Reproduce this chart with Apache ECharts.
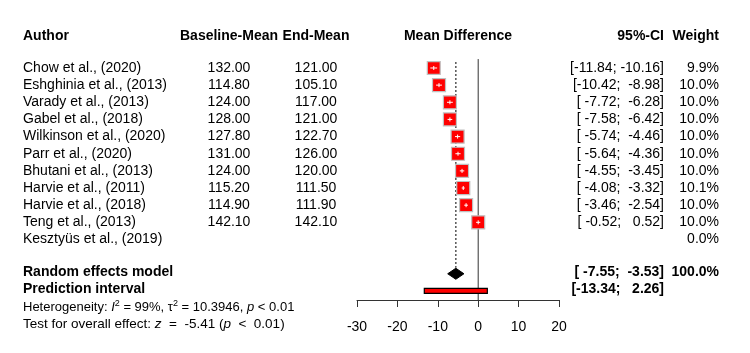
<!DOCTYPE html>
<html>
<head>
<meta charset="utf-8">
<script src="https://cdn.jsdelivr.net/npm/echarts@6/dist/echarts.min.js"></script>
<style>
html,body{margin:0;padding:0;background:#fff;}
#forest{width:750px;height:353px;}
</style>
</head>
<body>
<div id="forest"></div>
<script>
// study data
var authors = ['Chow et al., (2020)', 'Eshghinia et al., (2013)', 'Varady et al., (2013)', 'Gabel et al., (2018)',
    'Wilkinson et al., (2020)', 'Parr et al., (2020)', 'Bhutani et al., (2013)', 'Harvie et al., (2011)',
    'Harvie et al., (2018)', 'Teng et al., (2013)', 'Kesztyüs et al., (2019)'];
var baselineMean = [132.00, 114.80, 124.00, 128.00, 127.80, 131.00, 124.00, 115.20, 114.90, 142.10, null];
var endMean = [121.00, 105.10, 117.00, 121.00, 122.70, 126.00, 120.00, 111.50, 111.90, 142.10, null];
var meanDiff = [-11.00, -9.70, -7.00, -7.00, -5.10, -5.00, -4.00, -3.70, -3.00, 0.00, null];
var ciLower = [-11.84, -10.42, -7.72, -7.58, -5.74, -5.64, -4.55, -4.08, -3.46, -0.52, null];
var ciUpper = [-10.16, -8.98, -6.28, -6.42, -4.46, -4.36, -3.45, -3.32, -2.54, 0.52, null];
var weights = [9.9, 10.0, 10.0, 10.0, 10.0, 10.0, 10.0, 10.1, 10.0, 10.0, 0.0];
// random effects model: mean, lower, upper
var randomEffect = [-5.54, -7.55, -3.53];
var predInterval = [-13.34, 2.26];
var xTicks = [-30, -20, -10, 0, 10, 20];

var ROW_RE = 12, ROW_PI = 13;
var Y_MIN = -3, Y_MAX = 13.53;
var FONT = '"Liberation Sans", Arial, sans-serif';
// column x positions (px)
var COL = {author: 23, base: 229, end: 316, md: 458, ci: 664, w: 719};

function pad(s, n) {
    while (s.length < n) s = ' ' + s;
    return s;
}
function ciText(lo, up) {
    return '[' + pad(lo.toFixed(2), 6) + '; ' + pad(up.toFixed(2), 6) + ']';
}

// all the text cells of the table
var texts = [];
function addText(row, x, text, align, bold, size) {
    texts.push({row: row, x: x, text: text, align: align, bold: !!bold, size: size || 14});
}
addText(-1.88, COL.author, 'Author', 'left', true);
addText(-1.88, COL.base, 'Baseline-Mean', 'center', true);
addText(-1.88, COL.end, 'End-Mean', 'center', true);
addText(-1.88, COL.md, 'Mean Difference', 'center', true);
addText(-1.88, COL.ci, '95%-CI', 'right', true);
addText(-1.88, COL.w, 'Weight', 'right', true);
for (var i = 0; i < authors.length; i++) {
    addText(i, COL.author, authors[i], 'left');
    if (baselineMean[i] != null) addText(i, COL.base, baselineMean[i].toFixed(2), 'center');
    if (endMean[i] != null) addText(i, COL.end, endMean[i].toFixed(2), 'center');
    if (ciLower[i] != null) addText(i, COL.ci, ciText(ciLower[i], ciUpper[i]), 'right');
    addText(i, COL.w, weights[i].toFixed(1) + '%', 'right');
}
addText(ROW_RE - 0.1, COL.author, 'Random effects model', 'left', true);
addText(ROW_RE - 0.1, COL.ci, ciText(randomEffect[1], randomEffect[2]), 'right', true);
addText(ROW_RE - 0.1, COL.w, '100.0%', 'right', true);
addText(ROW_PI - 0.1, COL.author, 'Prediction interval', 'left', true);
addText(ROW_PI - 0.1, COL.ci, ciText(predInterval[0], predInterval[1]), 'right', true);
texts.push({row: 13.97, x: COL.author, align: 'left', size: 13,
    text: '{n|Heterogeneity: }{i|I}{s|2}{n| = 99%, τ}{s|2}{n| = 10.3946, }{i|p}{n| < 0.01}'});
texts.push({row: 14.95, x: COL.author, align: 'left', size: 13.5,
    text: '{t|Test for overall effect: }{ti|z}{t|  =  -5.41 (}{ti|p}{t|  <  0.01)}'});

var richStyle = {
    n: {fontSize: 13, fontFamily: FONT, lineHeight: 17, fill: '#000'},
    i: {fontSize: 13, fontFamily: FONT, fontStyle: 'italic', lineHeight: 17, fill: '#000'},
    s: {fontSize: 9, fontFamily: FONT, verticalAlign: 'top', lineHeight: 17, fill: '#000'},
    t: {fontSize: 13.5, fontFamily: FONT, lineHeight: 17, fill: '#000'},
    ti: {fontSize: 13.5, fontFamily: FONT, fontStyle: 'italic', lineHeight: 17, fill: '#000'}
};

function renderText(params, api) {
    var t = texts[api.value(2)];
    var y = api.coord([0, t.row])[1];
    return {
        type: 'text',
        x: t.x,
        y: y,
        style: {
            legacy: false,
            text: t.text,
            fill: '#000',
            font: (t.bold ? 'bold ' : '') + t.size + 'px ' + FONT,
            align: t.align,
            verticalAlign: 'middle',
            rich: richStyle
        }
    };
}

function renderStudy(params, api) {
    var md = api.value(0), lo = api.value(1), up = api.value(2), row = api.value(3), w = api.value(4);
    var c = api.coord([md, row]);
    var pl = api.coord([lo, row]);
    var pu = api.coord([up, row]);
    var s = 13 * Math.sqrt(w / 10);
    return {
        type: 'group',
        children: [{
            type: 'rect',
            shape: {x: c[0] - s / 2, y: c[1] - s / 2, width: s, height: s},
            style: {fill: '#ff0000', stroke: '#c0c0c0', lineWidth: 1.2}
        }, {
            type: 'line',
            shape: {x1: pl[0], y1: c[1], x2: pu[0], y2: c[1]},
            style: {stroke: '#fff', lineWidth: 1}
        }, {
            type: 'line',
            shape: {x1: c[0], y1: c[1] - 2, x2: c[0], y2: c[1] + 2},
            style: {stroke: '#fff', lineWidth: 1}
        }]
    };
}

function renderDiamond(params, api) {
    var c = api.coord([api.value(0), ROW_RE]);
    var l = api.coord([api.value(1), ROW_RE]);
    var u = api.coord([api.value(2), ROW_RE]);
    var h = 5.5;
    return {
        type: 'polygon',
        shape: {points: [[l[0], c[1]], [c[0], c[1] - h], [u[0], c[1]], [c[0], c[1] + h]]},
        style: {fill: '#000', stroke: '#000', lineWidth: 1}
    };
}

function renderPred(params, api) {
    var l = api.coord([api.value(0), ROW_PI]);
    var u = api.coord([api.value(1), ROW_PI]);
    return {
        type: 'rect',
        shape: {x: l[0], y: l[1] - 2.5, width: u[0] - l[0], height: 5},
        style: {fill: '#ff0000', stroke: '#000', lineWidth: 1.2}
    };
}

function renderRefLines(params, api) {
    var t0 = api.coord([0, -0.52]);
    var b0 = api.coord([0, Y_MAX]);
    var t1 = api.coord([randomEffect[0], -0.35]);
    var b1 = api.coord([randomEffect[0], ROW_RE]);
    return {
        type: 'group',
        children: [{
            type: 'line',
            shape: {x1: t0[0], y1: t0[1], x2: b0[0], y2: b0[1]},
            style: {stroke: '#333', lineWidth: 1}
        }, {
            type: 'line',
            shape: {x1: t1[0], y1: t1[1], x2: b1[0], y2: b1[1] - 6},
            style: {stroke: '#555', lineWidth: 1.5, lineDash: [2, 2]}
        }]
    };
}

var studyData = [];
for (var j = 0; j < meanDiff.length; j++) {
    if (meanDiff[j] == null) continue;
    studyData.push([meanDiff[j], ciLower[j], ciUpper[j], j, weights[j]]);
}

var chart = echarts.init(document.getElementById('forest'));
var option = {
    animation: false,
    backgroundColor: '#fff',
    grid: {left: 357, width: 202, top: 16.55, bottom: 53, containLabel: false},
    xAxis: {
        type: 'value',
        min: xTicks[0],
        max: xTicks[xTicks.length - 1],
        interval: xTicks[1] - xTicks[0],
        axisLine: {show: true, onZero: false, lineStyle: {color: '#333', width: 1}},
        axisTick: {show: true, inside: false, length: 7, lineStyle: {color: '#333', width: 1}},
        axisLabel: {margin: 20, color: '#000', fontSize: 14, fontFamily: FONT},
        splitLine: {show: false}
    },
    yAxis: {
        type: 'value',
        inverse: true,
        min: Y_MIN,
        max: Y_MAX,
        show: false,
        splitLine: {show: false}
    },
    series: [{
        type: 'custom',
        renderItem: renderRefLines,
        data: [[0, 0]],
        silent: true
    }, {
        type: 'custom',
        renderItem: renderStudy,
        data: studyData,
        encode: {x: 0, y: 3},
        silent: true
    }, {
        type: 'custom',
        renderItem: renderDiamond,
        data: [randomEffect],
        silent: true
    }, {
        type: 'custom',
        renderItem: renderPred,
        data: [predInterval],
        silent: true
    }, {
        type: 'custom',
        renderItem: renderText,
        data: texts.map(function (t, k) { return [0, t.row, k]; }),
        silent: true
    }]
};
chart.setOption(option);
</script>
</body>
</html>
